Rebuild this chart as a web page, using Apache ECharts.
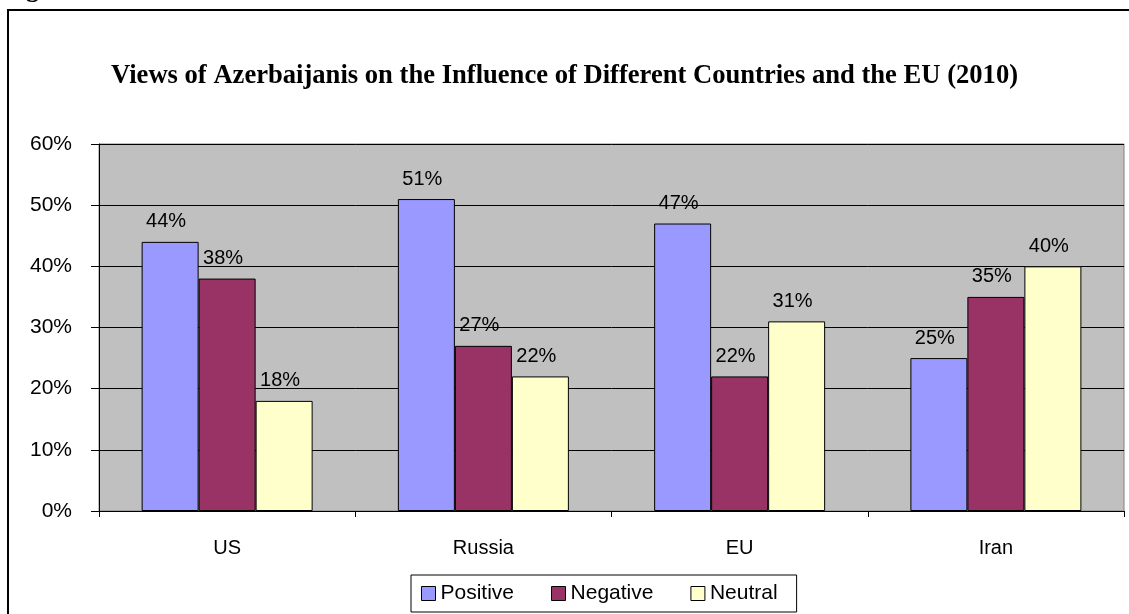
<!DOCTYPE html>
<html>
<head>
<meta charset="utf-8">
<script src="https://cdn.jsdelivr.net/npm/echarts@6/dist/echarts.min.js"></script>
<style>html,body{margin:0;padding:0;background:#fff}#c{width:1129px;height:614px}</style>
</head>
<body>
<div id="c"></div>
<script>
const categories = ['US', 'Russia', 'EU', 'Iran'];
const positive = [0.44, 0.51, 0.47, 0.25];
const negative = [0.38, 0.27, 0.22, 0.35];
const neutral = [0.18, 0.22, 0.31, 0.40];
const seriesNames = ['Positive', 'Negative', 'Neutral'];
const titleText = 'Views of Azerbaijanis on the Influence of Different Countries and the EU (2010)';

const SANS = '"Liberation Sans", Arial, sans-serif';
const SERIF = '"Liberation Serif", "Times New Roman", serif';
const colors = ['#9999FF', '#993366', '#FFFFCC'];

const chart = echarts.init(document.getElementById('c'));
function mk(name, data, color) {
  return {
    name: name, type: 'bar', data: data, barWidth: 57, barGap: '0%',
    itemStyle: { color: color, borderColor: '#000', borderWidth: 1 },
    label: {
      show: true, position: 'top', distance: 10, offset: [-4, 0], color: '#000',
      fontFamily: SANS, fontSize: 20,
      formatter: p => Math.round(p.value * 100) + '%'
    }
  };
}
chart.setOption({
  animation: false,
  title: {
    text: titleText, left: 'center', top: 58,
    textStyle: { fontFamily: SERIF, fontWeight: 'bold', fontSize: 26.6, color: '#000' }
  },
  legend: {
    data: seriesNames.map(n => ({ name: n, icon: 'rect', itemStyle: { borderColor: '#000', borderWidth: 1 } })),
    left: 411, top: 575, itemWidth: 14, itemHeight: 14, itemGap: 37,
    padding: [8, 19, 8, 10], borderColor: '#000', borderWidth: 1,
    textStyle: { fontFamily: SANS, fontSize: 21, color: '#000' }
  },
  grid: {
    left: 99, right: 5, top: 144, bottom: 103, show: true,
    backgroundColor: '#C0C0C0', borderColor: '#808080', borderWidth: 1
  },
  xAxis: {
    type: 'category', data: categories,
    axisLine: { lineStyle: { color: '#000', width: 1 } },
    axisTick: { show: true, length: 6, lineStyle: { color: '#000' } },
    axisLabel: { fontFamily: SANS, fontSize: 20, color: '#000', margin: 27 }
  },
  yAxis: {
    type: 'value', min: 0, max: 0.6, interval: 0.1,
    axisLine: { show: true, lineStyle: { color: '#000', width: 1 } },
    axisTick: { show: true, length: 8, lineStyle: { color: '#000' } },
    axisLabel: { fontFamily: SANS, fontSize: 21, color: '#000', margin: 27,
      formatter: v => Math.round(v * 100) + '%' },
    splitLine: { show: true, lineStyle: { color: '#000', width: 1 } }
  },
  series: [mk(seriesNames[0], positive, colors[0]), mk(seriesNames[1], negative, colors[1]), mk(seriesNames[2], neutral, colors[2])],
  graphic: [
    { type: 'rect', shape: { x: 8, y: 10, width: 1300, height: 800 }, style: { fill: 'none', stroke: '#000', lineWidth: 2 }, silent: true, z: 100 },
    { type: 'text', x: 26, y: -10, style: { text: 'g', font: 'bold 26px ' + SERIF, fill: '#000', verticalAlign: 'middle' }, silent: true }
  ]
});
</script>
</body>
</html>
